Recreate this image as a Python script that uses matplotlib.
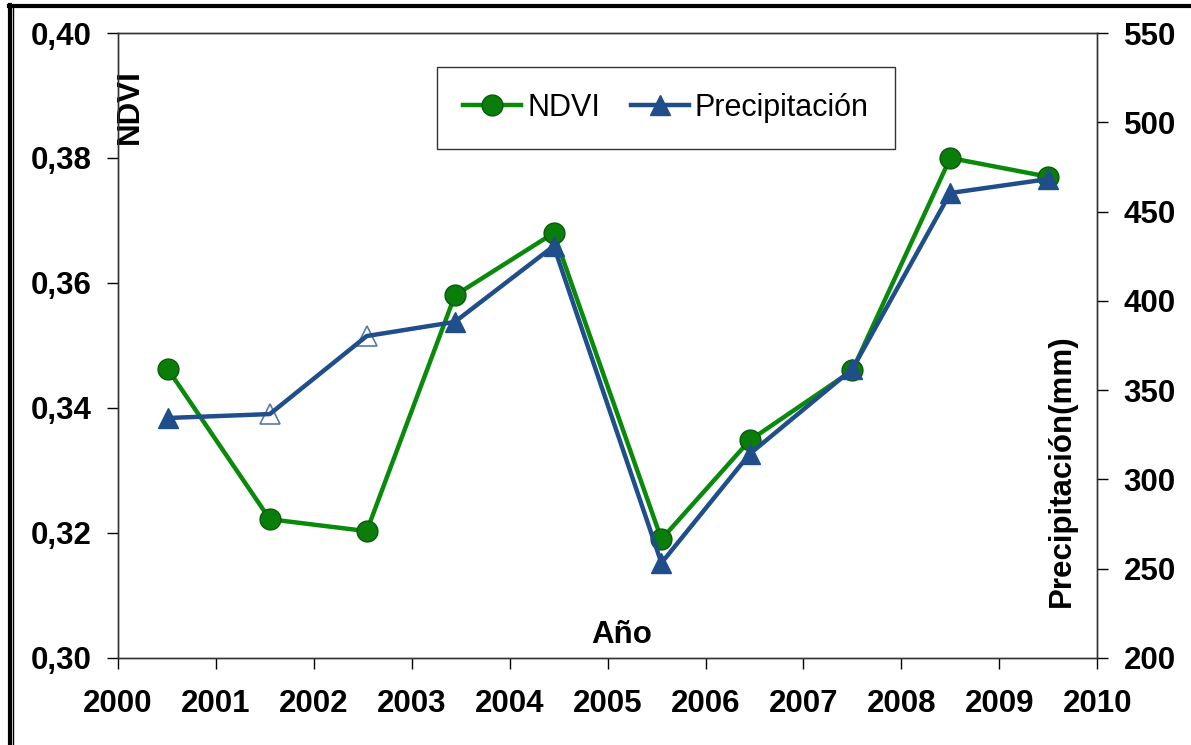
import numpy as np
import matplotlib.pyplot as plt
from matplotlib.lines import Line2D

plt.rcParams['font.family'] = ['Liberation Sans', 'DejaVu Sans']

# data
years = [2000.51, 2001.55, 2002.54, 2003.44, 2004.45, 2005.55, 2006.45, 2007.5, 2008.5, 2009.5]
ndvi = [0.3462, 0.3222, 0.3203, 0.3580, 0.3680, 0.3190, 0.3348, 0.3460, 0.3800, 0.3770]
precip = [334.4, 336.6, 380.3, 388.2, 430.7, 253.2, 314.2, 361.8, 460.4, 468.2]
hollow = [1, 2]  # points drawn with open triangles

green = '#0a8a0a'
blue = '#1F4E8A'

fig = plt.figure(figsize=(11.91, 7.45), dpi=100)
ax = fig.add_axes([0.0991, 0.1168, 0.8221, 0.8389])
ax2 = ax.twinx()

ax.plot(years, ndvi, color=green, lw=3.2, marker='o', ms=15,
        mfc='#0b7d0b', mec='#0a5a0a', mew=1, label='NDVI', zorder=3)

filled = [i for i in range(len(years)) if i not in hollow]
ax2.plot([years[i] for i in hollow], [precip[i] for i in hollow], ls='none',
         marker='^', ms=15, mfc='white', mec='#5a78a8', mew=1.2, zorder=2)
ax2.plot(years, precip, color=blue, lw=3.2, zorder=3)
ax2.plot([years[i] for i in filled], [precip[i] for i in filled], ls='none',
         marker='^', ms=15, mfc=blue, mec=blue, zorder=4)

ax.set_xlim(2000, 2010)
ax.set_ylim(0.30, 0.40)
ax2.set_ylim(200, 550)
ax.set_xticks(range(2000, 2011))
ax.set_yticks(np.arange(0.30, 0.401, 0.02))
ax.set_yticklabels(['0,30', '0,32', '0,34', '0,36', '0,38', '0,40'])
ax2.set_yticks(range(200, 551, 50))

for a in (ax, ax2):
    a.tick_params(direction='out', length=8, width=1, labelsize=22.5, pad=11)
    a.tick_params(axis='x', pad=14)
    for lab in a.get_xticklabels() + a.get_yticklabels():
        lab.set_fontweight('bold')
    for sp in a.spines.values():
        sp.set_linewidth(1)
        sp.set_color('#333333')

ax.text(0.012, 0.883, 'NDVI', transform=ax.transAxes, rotation=90,
        ha='center', va='center', fontsize=22.5, fontweight='bold')
ax.text(0.514, 0.037, 'Año', transform=ax.transAxes,
        ha='center', va='center', fontsize=22.5, fontweight='bold')
ax.text(0.964, 0.30, 'Precipitación(mm)', transform=ax.transAxes, rotation=90,
        ha='center', va='center', fontsize=22.5, fontweight='bold')

handles = [Line2D([], [], color=green, lw=3.2, marker='o', ms=15, mfc='#0b7d0b', mec='#0a5a0a'),
           Line2D([], [], color=blue, lw=3.2, marker='^', ms=15, mfc=blue, mec=blue)]
leg = ax2.legend(handles, ['NDVI', 'Precipitación'], loc='upper left',
                 bbox_to_anchor=(0.326, 0.9456), ncol=2, fontsize=22, frameon=True,
                 fancybox=False, edgecolor='black', handlelength=1.9,
                 handletextpad=0.2, columnspacing=1.0, borderpad=0.85,
                 borderaxespad=0)
leg.get_frame().set_linewidth(1)

# outer frame of the picture
fig.add_artist(Line2D([0.0075, 1.0], [0.9919, 0.9919], color='black', lw=3, transform=fig.transFigure))
fig.add_artist(Line2D([0.0080, 0.0080], [0.0, 0.993], color='black', lw=3, transform=fig.transFigure))
fig.add_artist(Line2D([0.0105, 0.0105], [0.0, 0.990], color='black', lw=1, transform=fig.transFigure))

fig.savefig('out.png', dpi=100)
